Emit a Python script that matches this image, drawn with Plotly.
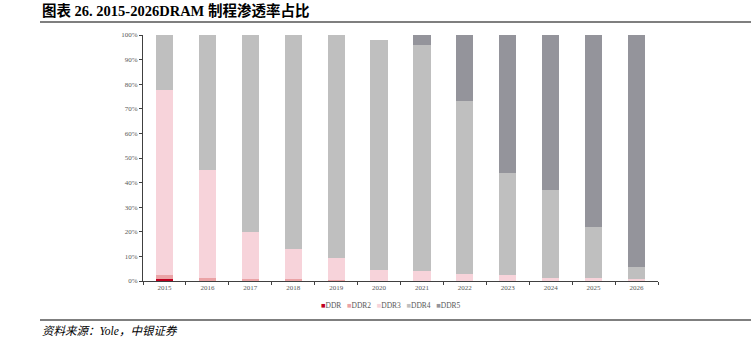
import plotly.graph_objects as go

# DRAM generation share by year (%), stacked bottom to top
years = ["2015", "2016", "2017", "2018", "2019", "2020",
         "2021", "2022", "2023", "2024", "2025", "2026"]
ddr = [1.0, 0, 0, 0, 0, 0, 0, 0, 0, 0, 0, 0]
ddr2 = [1.4, 1.3, 0.8, 0.8, 0.3, 0, 0, 0, 0, 0, 0, 0]
ddr3 = [75.1, 43.7, 19.2, 12.2, 9.2, 4.3, 4.0, 3.0, 2.3, 1.2, 1.2, 0.8]
ddr4 = [22.5, 55.0, 80.0, 87.0, 90.5, 93.8, 92.0, 70.0, 41.7, 35.8, 20.8, 4.7]
ddr5 = [0, 0, 0, 0, 0, 0, 4.0, 27.0, 56.0, 63.0, 78.0, 94.5]

series = [
    ("DDR", ddr, "#C0001F"),
    ("DDR2", ddr2, "#EBA3A6"),
    ("DDR3", ddr3, "#F7D3DA"),
    ("DDR4", ddr4, "#BFBFBF"),
    ("DDR5", ddr5, "#94949B"),
]

W, H = 751, 343
L, R, T, B = 143, 658, 35, 281  # plot area in pixels


def px_x(p):
    return (p - L) / (R - L)


def px_y(p):
    return (B - p) / (B - T)


fig = go.Figure()
for name, vals, color in series:
    fig.add_trace(go.Bar(
        x=years, y=vals, name=name,
        marker=dict(color=color, line=dict(width=0)),
    ))

serif = "Liberation Serif, Times New Roman, serif"
tick_font = dict(family=serif, size=7, color="#595959")

fig.update_layout(
    width=W, height=H,
    margin=dict(l=L, r=W - R, t=T, b=H - B, pad=0),
    paper_bgcolor="white", plot_bgcolor="white",
    barmode="stack", bargap=0.6,
    showlegend=False,
    xaxis=dict(
        type="category", showgrid=False, zeroline=False,
        showline=True, linecolor="#404040", linewidth=1,
        ticks="outside", ticklen=3, tickcolor="#404040",
        tickson="boundaries", tickfont=tick_font,
    ),
    yaxis=dict(
        range=[0, 100], dtick=10, ticksuffix="%",
        showgrid=False, zeroline=False,
        showline=True, linecolor="#404040", linewidth=1,
        ticks="outside", ticklen=3, tickcolor="#404040",
        tickfont=tick_font,
    ),
)

# Compact legend row: coloured squares followed by series names
legend_html = "&nbsp;&nbsp;&nbsp;".join(
    f'<span style="color:{color}">■</span>{name}' for name, _, color in series
)
fig.add_annotation(
    text=legend_html,
    xref="paper", yref="paper", x=px_x(391), y=px_y(305),
    xanchor="center", yanchor="middle", showarrow=False,
    font=dict(family=serif, size=7.5, color="#595959"),
)

# Heading and source line with horizontal rules
fig.add_annotation(
    text="<b>图表 26. 2015-2026DRAM 制程渗透率占比</b>",
    xref="paper", yref="paper", x=px_x(40), y=px_y(11),
    xanchor="left", yanchor="middle", showarrow=False,
    font=dict(family="Liberation Serif, Noto Sans CJK SC", size=14.5, color="#000000"),
)
fig.add_annotation(
    text="<i>资料来源：Yole，中银证券</i>",
    xref="paper", yref="paper", x=px_x(40), y=px_y(331),
    xanchor="left", yanchor="middle", showarrow=False,
    font=dict(family="Liberation Serif, Noto Sans CJK SC", size=11.5, color="#000000"),
)
for py in (22, 320):
    fig.add_shape(
        type="line", xref="paper", yref="paper",
        x0=px_x(40), x1=px_x(751), y0=px_y(py), y1=px_y(py),
        line=dict(color="#555555", width=1.5),
    )

fig.write_html("out.html")
